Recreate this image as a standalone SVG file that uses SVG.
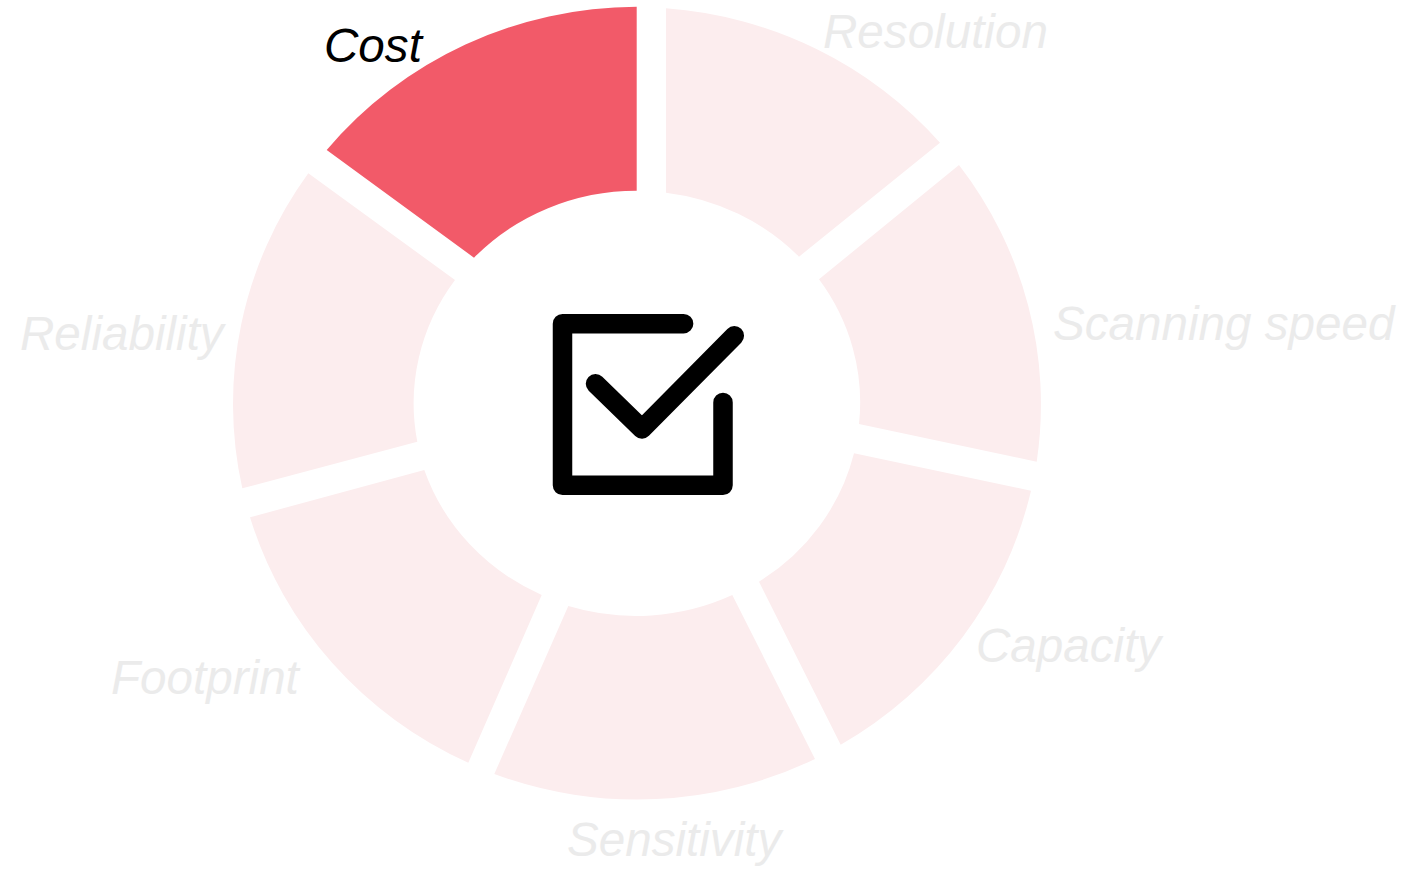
<svg xmlns="http://www.w3.org/2000/svg" width="1404" height="869" viewBox="0 0 1404 869">
<style>
.seg{fill:#FCEDEE;stroke:none}
.active{fill:#F25A69}
.lbl{font-family:"Liberation Sans",Arial,sans-serif;font-style:italic;font-size:47.6px;fill:#EBEBEB}
.lbl.on{fill:#000000}
.icon{fill:none;stroke:#000000;stroke-width:19.5;stroke-linecap:round;stroke-linejoin:round}
</style>
<rect x="0" y="0" width="1404" height="869" fill="#FFFFFF"/>
<g id="cost">
<path class="seg active" d="M326.7,150 A404.5,396.7 0 0 1 636.7,6.7 L636.7,190.7 A223,212.5 0 0 0 474,257.7 Z"/>
<text class="lbl on" x="324" y="62">Cost</text>
</g>
<g id="resolution">
<path class="seg" d="M666,8.3 A404.5,396.7 0 0 1 940,142.7 L799,256.7 A223,212.5 0 0 0 666,192.7 Z"/>
<text class="lbl" x="823" y="48">Resolution</text>
</g>
<g id="scanning-speed">
<path class="seg" d="M959,165 A404.5,396.7 0 0 1 1036.7,461.7 L859,424 A223,212.5 0 0 0 819,279.3 Z"/>
<text class="lbl" x="1053" y="340">Scanning speed</text>
</g>
<g id="capacity">
<path class="seg" d="M1031,490.7 A404.5,396.7 0 0 1 840.7,744.7 L759,581.7 A223,212.5 0 0 0 854,453.3 Z"/>
<text class="lbl" x="976" y="662">Capacity</text>
</g>
<g id="sensitivity">
<path class="seg" d="M815,759 A404.5,396.7 0 0 1 494.3,774 L568.3,606 A223,212.5 0 0 0 732.3,595 Z"/>
<text class="lbl" x="567" y="856">Sensitivity</text>
</g>
<g id="footprint">
<path class="seg" d="M468.3,762.7 A404.5,396.7 0 0 1 250,517.3 L424.3,470 A223,212.5 0 0 0 541.7,595 Z"/>
<text class="lbl" x="111" y="694">Footprint</text>
</g>
<g id="reliability">
<path class="seg" d="M242.3,488.3 A404.5,396.7 0 0 1 308.3,173.3 L455,280 A223,212.5 0 0 0 417.3,441.7 Z"/>
<text class="lbl" x="20" y="350">Reliability</text>
</g>
<g id="checkbox-icon">
<path class="icon" d="M683.6,323.7 L562.5,323.7 L562.5,485.3 L723,485.3 L723,402.4"/>
<path class="icon" d="M595.5,383.7 L642,429 L734.3,335.8"/>
</g>
<g id="connectors"></g>
</svg>
